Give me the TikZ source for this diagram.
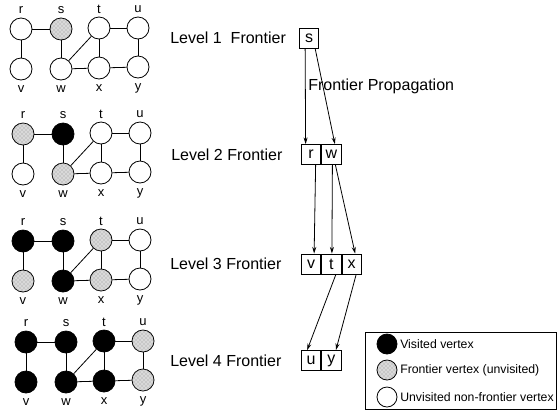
\documentclass[tikz,border=0pt]{standalone}
\usepackage{fontspec}
\setmainfont{Liberation Sans}
\usetikzlibrary{patterns,arrows.meta,calc}
\tikzset{
 vtx/.style={circle,draw=black,line width=0.6pt,minimum size=16.5pt,inner sep=0pt},
 vis/.style={vtx,fill=black},
 fro/.style={vtx,fill=gray!30,postaction={pattern=crosshatch dots,pattern color=gray!85}},
 unv/.style={vtx,fill=white},
 vlabel/.style={font=\fontsize{9.75}{11}\selectfont,inner sep=0pt},
 lvl/.style={font=\fontsize{12}{14}\selectfont,anchor=west,inner sep=0pt},
 cell/.style={draw,line width=0.6pt,minimum width=14.6pt,minimum height=15pt,inner sep=0pt,anchor=west,font=\fontsize{12}{14}\selectfont},
 gedge/.style={line width=0.6pt},
 arr/.style={line width=0.6pt,-{Stealth[length=5pt,width=3pt]}},
 legtxt/.style={font=\fontsize{9.2}{11}\selectfont,anchor=west,inner sep=0pt}
}
\newcommand\drawgraph[9]{%
  \node[#2] (#1r) at (21,29) {};
  \node[#3] (#1s) at (61,29) {};
  \node[#4] (#1t) at (99,28) {};
  \node[#5] (#1u) at (138,28) {};
  \node[#6] (#1v) at (21,69) {};
  \node[#7] (#1w) at (61,69) {};
  \node[#8] (#1x) at (99,68) {};
  \node[#9] (#1y) at (138,67) {};
  \node[vlabel] (#1lr) at (21,10) {r};
  \node[vlabel] (#1ls) at (61,10) {s};
  \node[vlabel] (#1lt) at (99,9) {t};
  \node[vlabel] (#1lu) at (138,9) {u};
  \node[vlabel] (#1lv) at (21,89) {v};
  \node[vlabel] (#1lw) at (61,89) {w};
  \node[vlabel] (#1lx) at (99,88) {x};
  \node[vlabel] (#1ly) at (138,88) {y};
  \draw[gedge] (#1r) -- (#1s);
  \draw[gedge] (#1r) -- (#1v);
  \draw[gedge] (#1s) -- (#1w);
  \draw[gedge] (#1w) -- (#1t);
  \draw[gedge] (#1t) -- (#1u);
  \draw[gedge] (#1t) -- (#1x);
  \draw[gedge] (#1w) -- (#1x);
  \draw[gedge] (#1x) -- (#1y);
  \draw[gedge] (#1u) -- (#1y);
}
\begin{document}
\begin{tikzpicture}[x=0.75pt,y=-0.75pt]
\useasboundingbox (0,0) rectangle (557,412);
\begin{scope}
\drawgraph{a}{unv}{fro}{unv}{unv}{unv}{unv}{unv}{unv}
\end{scope}
\begin{scope}[shift={(2,105)}]
\drawgraph{b}{fro}{vis}{unv}{unv}{unv}{fro}{unv}{unv}
\end{scope}
\begin{scope}[shift={(2,212)}]
\drawgraph{c}{vis}{vis}{fro}{unv}{fro}{vis}{fro}{unv}
\end{scope}
\begin{scope}[shift={(5,313)}]
\drawgraph{d}{vis}{vis}{vis}{fro}{vis}{vis}{vis}{fro}
\end{scope}

% level labels
\node[lvl] (l1) at (170,38) {Level 1\ \ Frontier};
\node[lvl] (l2) at (171,154.5) {Level 2 Frontier};
\node[lvl] (l3) at (170,264) {Level 3 Frontier};
\node[lvl] (l4) at (170,361) {Level 4 Frontier};

% frontier cells
\node[cell] (s) at (299,38) {s};
\node[cell] (r) at (301,154.5) {r};
\node[cell] (w) at (r.east) {w};
\node[cell] (v) at (301,264) {v};
\node[cell] (t) at (v.east) {t};
\node[cell] (x) at (t.east) {x};
\node[cell] (u) at (301,360.5) {u};
\node[cell] (y) at (u.east) {y};

\node[lvl] (fp) at (308,86) {Frontier Propagation};

\draw[arr] ($(s.south)+(-4,0)$) -- ($(r.north)+(-5.5,0)$);
\draw[arr] ($(s.south)+(6,0)$) -- ($(w.north)+(3.5,0)$);
\draw[arr] ($(r.south)+(4.5,0)$) -- ($(v.north)+(3,0)$);
\draw[arr] ($(w.south)+(1,0)$) -- ($(t.north)+(0.5,0)$);
\draw[arr] ($(w.south)+(4,0)$) -- ($(x.north)+(3.5,0)$);
\draw[arr] ($(t.south)+(4.5,0)$) -- ($(u.north)+(-4,0)$);
\draw[arr] ($(x.south)+(4.5,0)$) -- ($(y.north)+(4.5,0)$);

% legend
\draw[line width=0.6pt] (365,332) rectangle (556.5,409);
\node[vis,minimum size=15pt] (k1) at (387,344) {};
\node[fro,minimum size=15pt] (k2) at (387,370) {};
\node[unv,minimum size=15pt] (k3) at (387,397) {};
\node[legtxt] (k1t) at (400,344) {Visited vertex};
\node[legtxt] (k2t) at (400,370) {Frontier vertex (unvisited)};
\node[legtxt] (k3t) at (400,397) {Unvisited non-frontier vertex};
\end{tikzpicture}
\end{document}
